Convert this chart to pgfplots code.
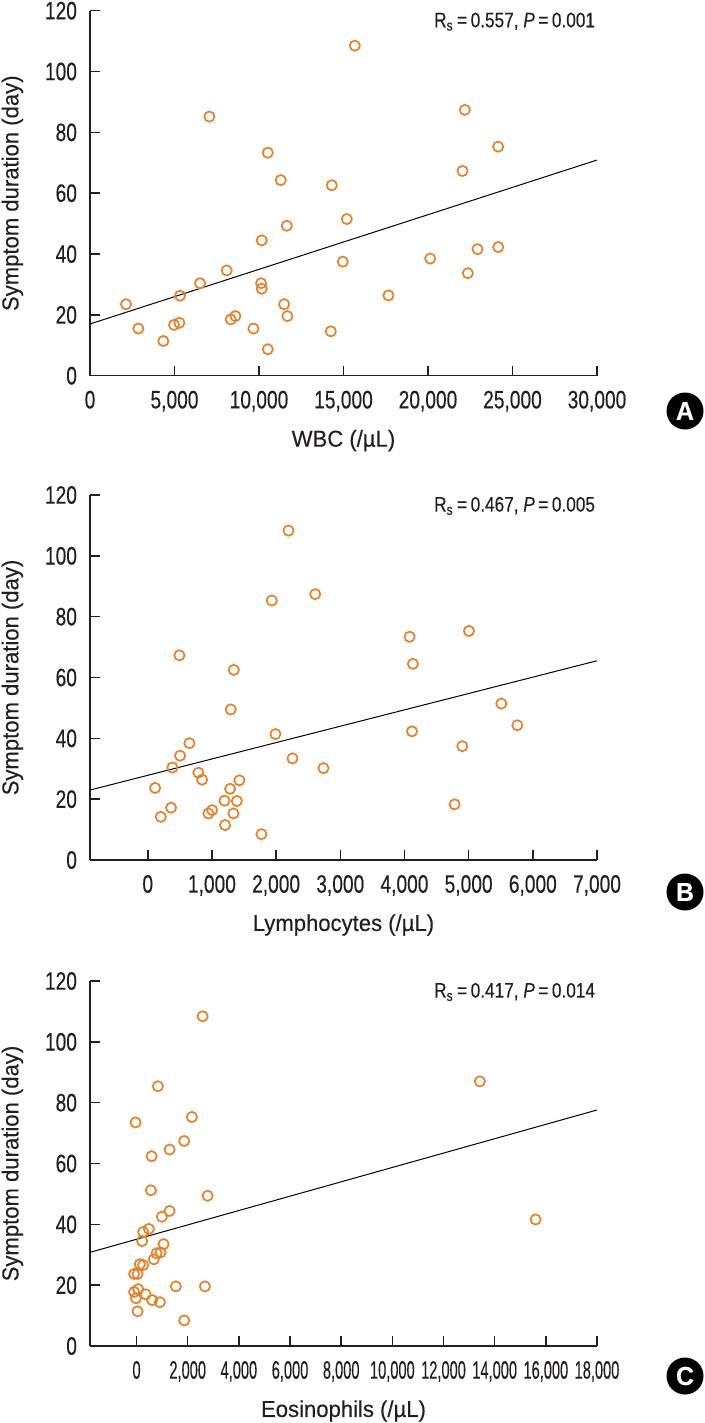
\documentclass[border=0pt]{standalone}
\usepackage{fontspec}
\setmainfont{Liberation Sans}[FakeStretch=0.96, FakeBold=0.3]
\newfontfamily\numfont{Liberation Sans}[FakeStretch=0.76, FakeBold=0.3]
\newfontfamily\numfontc{Liberation Sans}[FakeStretch=0.58, FakeBold=0.3]
\newfontfamily\rsfont{Liberation Sans}[FakeStretch=0.82, FakeBold=0.3]
\usepackage{pgfplots}
\pgfplotsset{compat=1.18}
\definecolor{dotorange}{HTML}{E8802A}
\definecolor{axisgray}{HTML}{231F20}

\pgfplotstableread{
x y
2131 23.5
2861 15.5
4341 11.4
4973 16.7
5288 17.4
5328 26.3
6512 30.4
7065 85.2
8091 34.6
8328 18.5
8604 19.6
9670 15.5
10163 44.5
10123 30.4
10163 28.6
10518 73.3
10518 8.7
11288 64.3
11643 49.3
11485 23.5
11682 19.6
14307 62.6
14248 14.6
14958 37.5
15195 51.5
15668 108.5
17660 26.4
20128 38.5
22041 67.3
22180 87.4
22358 33.7
22929 41.6
24154 75.3
24154 42.3
}\wbc

\pgfplotstableread{
x y
114 23.7
203 14.2
363 17.2
384 30.4
493 67.3
504 34.3
649 38.4
789 28.7
847 26.4
945 15.3
1003 16.4
1205 11.5
1195 19.5
1283 23.4
1294 49.5
1335 15.3
1341 62.5
1388 19.4
1428 26.2
1771 8.5
1933 85.3
1990 41.4
2193 108.3
2255 33.4
2609 87.4
2738 30.2
4080 73.4
4132 64.5
4117 42.3
4781 18.3
4901 37.4
5005 75.3
5509 51.4
5759 44.3
}\lym

\pgfplotstableread{
x y
-39 73.5
-94 23.7
39 23.7
-94 17.8
63 18.7
-27 15.7
39 11.4
129 26.9
258 26.6
219 34.5
258 37.5
481 38.5
352 17.0
610 15.1
560 51.2
587 62.4
677 28.5
783 30.5
833 85.4
912 14.4
939 30.8
990 42.5
1056 33.5
1291 44.4
1291 64.6
1538 19.6
1863 67.4
1863 8.4
2164 75.3
2583 108.4
2673 19.6
2778 49.4
13421 87.0
15598 41.6
}\eos

\pgfplotsset{
  panel/.style={
    scale only axis, width=253.5pt, height=182.5pt,
    anchor=south west,
    axis lines=left,
    axis line style={-, line width=0.75pt, draw=axisgray},
    every tick/.style={line width=0.75pt, draw=axisgray},
    tick align=inside, major tick length=5pt,
    ymin=0, ymax=120, ytick={0,20,...,120},
    scaled ticks=false,
    /pgf/number format/1000 sep={,},
    /pgf/number format/assume math mode=true,
    ticklabel style={font=\numfont\fontsize{12.6}{13}\selectfont, text=axisgray},
    yticklabel style={xshift=-3pt},
    xticklabel style={yshift=-4pt},
    label style={font=\fontsize{11.5}{13}\selectfont, text=axisgray},
    ylabel={Symptom duration (day)},
    ylabel style={at={(axis description cs:-0.153,0.5)}, anchor=center},
    xlabel style={at={(axis description cs:0.5,0)}, anchor=center, yshift=-32.5pt},
    clip=false,
  },
  dots/.style={only marks, mark=o, mark size=2.55pt, mark options={draw=dotorange, line width=0.85pt}},
  fit/.style={black, line width=0.5pt, no marks},
}
\tikzset{rs/.style={anchor=east, font=\rsfont\fontsize{10.5}{12}\selectfont, text=axisgray}}

\newcommand{\badge}[1]{node[circle, fill=black, text=white, minimum size=18.5pt, inner sep=0pt, font=\bfseries\fontsize{13}{13}\selectfont]{#1}}

\begin{document}
\begin{tikzpicture}
\useasboundingbox (0,0) rectangle (352.5pt,-711.5pt);

% Panel A
\begin{axis}[panel, at={(45pt,-187.85pt)},
  xmin=0, xmax=30000, xtick={0,5000,...,30000},
  xlabel={WBC (/\textmu L)}]
\addplot[fit] coordinates {(0,17) (30000,70.9)};
\addplot[dots] table[x=x,y=y] {\wbc};
\node[rs] at (rel axis cs:1.01,0.97) {R\textsubscript{s}\,=\,0.557, \textit{P}\,=\,0.001};
\end{axis}
\path (342.5pt,-205.5pt) \badge{A};

% Panel B
\begin{axis}[panel, at={(45pt,-430pt)},
  xmin=-900, xmax=7000, xtick={0,1000,...,7000},
  xlabel={Lymphocytes (/\textmu L)}]
\addplot[fit] coordinates {(-900,23) (7000,65.5)};
\addplot[dots] table[x=x,y=y] {\lym};
\node[rs] at (rel axis cs:1.01,0.97) {R\textsubscript{s}\,=\,0.467, \textit{P}\,=\,0.005};
\end{axis}
\path (342.5pt,-446pt) \badge{B};

% Panel C
\begin{axis}[panel, at={(45pt,-673pt)},
  xmin=-1820, xmax=18000, xtick={0,2000,...,18000},
  xticklabel style={font=\numfontc\fontsize{12.6}{13}\selectfont},
  xlabel={Eosinophils (/\textmu L)}]
\addplot[fit] coordinates {(-1820,30.8) (18000,77.6)};
\addplot[dots] table[x=x,y=y] {\eos};
\node[rs] at (rel axis cs:1.01,0.97) {R\textsubscript{s}\,=\,0.417, \textit{P}\,=\,0.014};
\end{axis}
\path (342.5pt,-688pt) \badge{C};
\end{tikzpicture}
\end{document}
